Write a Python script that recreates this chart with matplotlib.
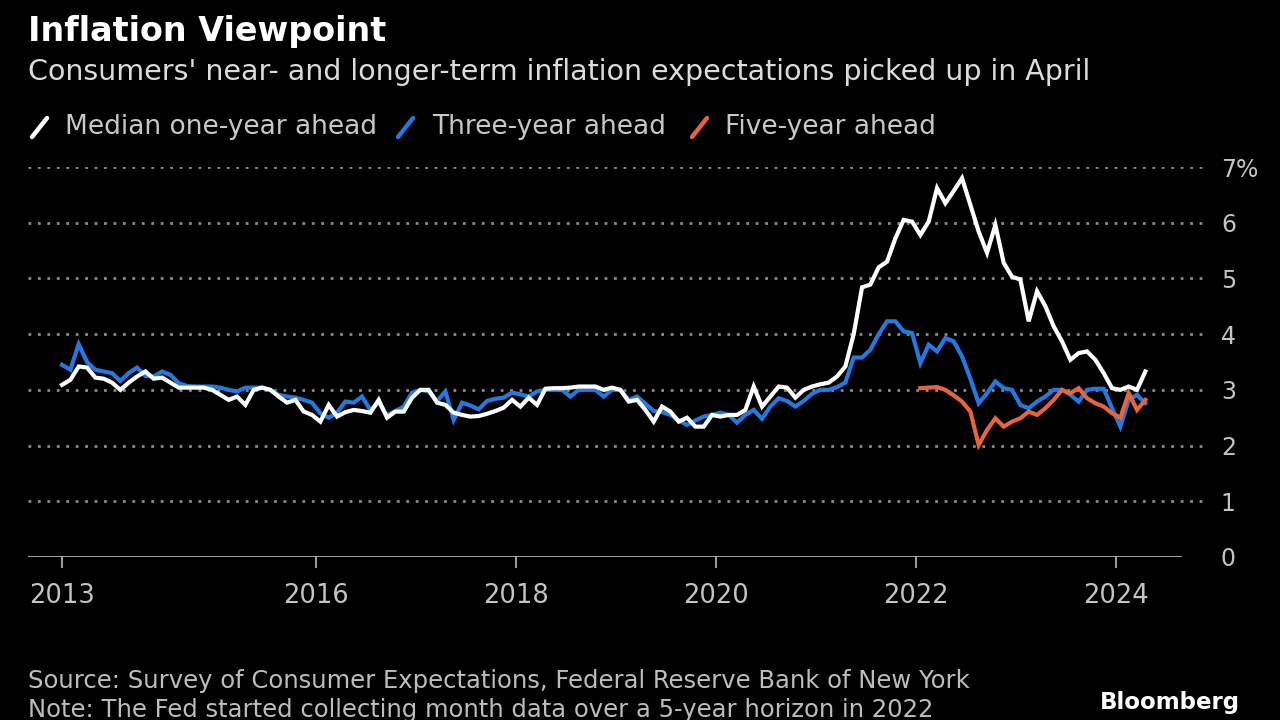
import matplotlib
matplotlib.use("Agg")
import matplotlib.pyplot as plt
from matplotlib.lines import Line2D
import numpy as np

# monthly survey values, June 2013 .. April 2024
start_year = 2013
start_month = 6

one_year = [
    3.09, 3.18, 3.42, 3.40, 3.22, 3.20, 3.13, 3.00, 3.13, 3.24, 3.33, 3.20,
    3.22, 3.13, 3.04, 3.04, 3.04, 3.04, 3.00, 2.91, 2.82, 2.88, 2.73, 3.00,
    3.04, 3.00, 2.88, 2.77, 2.82, 2.61, 2.55, 2.43, 2.73, 2.52, 2.60, 2.64,
    2.62, 2.59, 2.82, 2.50, 2.61, 2.61, 2.86, 3.00, 3.00, 2.77, 2.73, 2.59,
    2.55, 2.52, 2.53, 2.57, 2.62, 2.68, 2.82, 2.70, 2.86, 2.73, 3.02, 3.03,
    3.03, 3.04, 3.06, 3.06, 3.06, 3.00, 3.04, 3.00, 2.79, 2.82, 2.64, 2.43,
    2.70, 2.61, 2.43, 2.50, 2.34, 2.34, 2.55, 2.52, 2.55, 2.55, 2.64, 3.06,
    2.70, 2.88, 3.06, 3.04, 2.86, 3.00, 3.06, 3.10, 3.13, 3.24, 3.42, 4.00,
    4.84, 4.89, 5.20, 5.30, 5.72, 6.05, 6.02, 5.78, 6.02, 6.62, 6.35, 6.57,
    6.80, 6.32, 5.84, 5.46, 5.96, 5.28, 5.03, 4.98, 4.23, 4.77, 4.50, 4.14,
    3.87, 3.54, 3.66, 3.69, 3.54, 3.30, 3.03, 3.00, 3.06, 3.00, 3.33,
]

three_year = [
    3.45, 3.36, 3.82, 3.50, 3.36, 3.33, 3.30, 3.16, 3.30, 3.40, 3.25, 3.24,
    3.33, 3.27, 3.12, 3.07, 3.06, 3.06, 3.06, 3.04, 3.00, 2.97, 3.04, 3.04,
    3.04, 3.00, 2.91, 2.88, 2.86, 2.82, 2.77, 2.58, 2.50, 2.59, 2.79, 2.77,
    2.88, 2.64, 2.77, 2.55, 2.62, 2.70, 2.95, 3.00, 2.97, 2.80, 2.97, 2.46,
    2.77, 2.72, 2.65, 2.80, 2.84, 2.86, 2.95, 2.92, 2.88, 2.97, 3.00, 3.00,
    3.00, 2.88, 3.00, 3.00, 3.00, 2.88, 3.00, 3.00, 2.82, 2.88, 2.75, 2.62,
    2.60, 2.55, 2.45, 2.37, 2.45, 2.52, 2.55, 2.59, 2.55, 2.41, 2.55, 2.64,
    2.48, 2.70, 2.85, 2.80, 2.70, 2.80, 2.93, 3.00, 3.00, 3.05, 3.13, 3.58,
    3.58, 3.72, 4.00, 4.23, 4.23, 4.05, 4.02, 3.48, 3.81, 3.69, 3.93, 3.87,
    3.60, 3.20, 2.76, 2.94, 3.15, 3.03, 3.00, 2.73, 2.67, 2.79, 2.88, 3.00,
    3.00, 2.91, 2.79, 3.00, 3.02, 3.02, 2.67, 2.34, 2.82, 2.91, 2.76,
]

# five-year series starts January 2022
five_start_index = 103
five_year = [
    3.03, 3.04, 3.05, 3.00, 2.90, 2.79, 2.61, 2.01, 2.28, 2.49, 2.34, 2.43,
    2.49, 2.61, 2.55, 2.67, 2.82, 3.00, 2.94, 3.03, 2.85, 2.76, 2.70, 2.58,
    2.50, 2.94, 2.64, 2.82,
]

year_ticks = [2016, 2018, 2020, 2022, 2024]
y_ticks = [0, 1, 2, 3, 4, 5, 6, 7]

# decimal year at mid-month
t = start_year + (start_month - 1 + np.arange(len(one_year)) + 0.5) / 12.0
t5 = t[five_start_index:five_start_index + len(five_year)]

W, H = 1280, 720
fig = plt.figure(figsize=(12.8, 7.2), dpi=100, facecolor="black")

ax = fig.add_axes([28 / W, 1 - 557 / H, (1207 - 28) / W, (557 - 167) / H])
ax.set_facecolor("black")

blue = "#2479e0"
orange = "#e8643a"

ax.plot(t, three_year, color=blue, lw=3.0, solid_joinstyle="miter", zorder=3)
ax.plot(t5, five_year, color=orange, lw=3.0, solid_joinstyle="miter", zorder=4)
ax.plot(t, one_year, color="white", lw=3.0, solid_joinstyle="miter", zorder=5)

ax.set_xlim(2013.118, 2024.908)
ax.set_ylim(0, 7)

for v in y_ticks[1:]:
    ax.axhline(v, color="#8a8a8a", lw=2.0, ls=(0, (1, 2.4)), zorder=1)
ax.axhline(0, xmin=0, xmax=0.977, color="#a0a0a0", lw=2.2, zorder=2)

for s in ax.spines.values():
    s.set_visible(False)

xt = [t[0]] + year_ticks
ax.set_xticks(xt)
ax.set_xticklabels([str(start_year)] + [str(y) for y in year_ticks])
ax.tick_params(axis="x", colors="#9a9a9a", length=8, width=1.5, pad=11,
               labelcolor="#c4c4c4", labelsize=18.5)

ax.yaxis.tick_right()
ax.set_yticks(y_ticks)
ax.set_yticklabels([str(v) for v in y_ticks[:-1]] + ["7%"])
ax.tick_params(axis="y", length=0, pad=10, labelcolor="#c4c4c4", labelsize=17)

# header
fig.text(28 / W, 1 - 32 / H, "Inflation Viewpoint", color="white",
         fontsize=24, fontweight="bold", va="center", ha="left")
fig.text(28 / W, 1 - 72 / H,
         "Consumers' near- and longer-term inflation expectations picked up in April",
         color="#dcdcdc", fontsize=20.5, va="center", ha="left")

# legend
legend_items = [
    ("Median one-year ahead", "white", 32, 65),
    ("Three-year ahead", blue, 398, 432),
    ("Five-year ahead", orange, 692, 725),
]
for label, col, lx, tx in legend_items:
    fig.add_artist(Line2D([lx / W, (lx + 15) / W], [1 - 137 / H, 1 - 118 / H],
                          color=col, lw=3.2, solid_capstyle="round"))
    fig.text(tx / W, 1 - 127 / H, label, color="#c8c8c8", fontsize=19,
             va="center", ha="left")

# footer
fig.text(28 / W, 1 - 681 / H,
         "Source: Survey of Consumer Expectations, Federal Reserve Bank of New York",
         color="#bdbdbd", fontsize=17.5, va="center", ha="left")
fig.text(28 / W, 1 - 710 / H,
         "Note: The Fed started collecting month data over a 5-year horizon in 2022",
         color="#bdbdbd", fontsize=17.5, va="center", ha="left")
fig.text(1240 / W, 1 - 703 / H, "Bloomberg", color="white", fontsize=16.5,
         fontweight="bold", va="center", ha="right")

fig.savefig("out.png", dpi=100, facecolor="black")
